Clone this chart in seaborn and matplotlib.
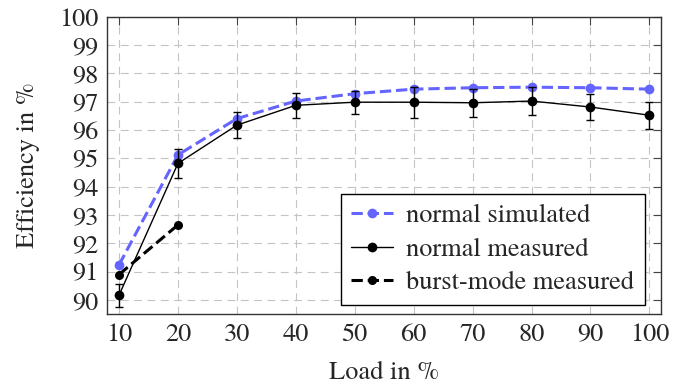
import matplotlib
matplotlib.use("Agg")
import matplotlib.pyplot as plt
import seaborn as sns

# data
load = [10, 20, 30, 40, 50, 60, 70, 80, 90, 100]
sim = [91.24, 95.12, 96.40, 97.02, 97.28, 97.44, 97.49, 97.51, 97.49, 97.44]
meas = [90.17, 94.82, 96.17, 96.87, 96.98, 96.98, 96.96, 97.02, 96.81, 96.52]
meas_err = [0.41, 0.51, 0.46, 0.44, 0.41, 0.54, 0.50, 0.50, 0.47, 0.47]
burst_load = [10, 20]
burst = [90.90, 92.65]

xticks = [10, 20, 30, 40, 50, 60, 70, 80, 90, 100]
yticks = [90, 91, 92, 93, 94, 95, 96, 97, 98, 99, 100]

sns.set_theme(style="white")
plt.rcParams['font.family'] = ['TeX Gyre Termes', 'Liberation Serif', 'DejaVu Serif']

fig = plt.figure(figsize=(6.83, 3.86), dpi=100)
ax = fig.add_axes([0.157, 0.186, 0.811, 0.771])

blue = '#6464ff'

# simulated
sns.lineplot(x=load, y=sim, ax=ax, color=blue, linestyle='--', linewidth=2.2,
             marker='o', markersize=7, markeredgewidth=0, label='normal simulated')

# measured with error bars
ax.errorbar(load, meas, yerr=meas_err, fmt='none', ecolor='black',
            elinewidth=1.0, capsize=3, capthick=1.0, zorder=3)
sns.lineplot(x=load, y=meas, ax=ax, color='black', linewidth=1.0,
             marker='o', markersize=7, markeredgewidth=0, label='normal measured')

# burst mode
sns.lineplot(x=burst_load, y=burst, ax=ax, color='black', linestyle='--', linewidth=2.2,
             marker='o', markersize=6.5, markeredgewidth=0, label='burst-mode measured')

ax.set_xlim(8, 102)
ax.set_ylim(89.5, 100)
ax.set_xticks(xticks)
ax.set_yticks(yticks)
ax.grid(True, linestyle=(0, (7, 5)), color='#c4c4c4', linewidth=0.8)
ax.set_axisbelow(True)

ax.tick_params(direction='in', top=True, right=True, length=6, width=0.8,
               color='#444444', labelsize=19, pad=6)
for s in ax.spines.values():
    s.set_color('#333333')
    s.set_linewidth(1.0)

ax.set_xlabel('Load in %', fontsize=19, labelpad=10)
ax.set_ylabel('Efficiency in %', fontsize=19, labelpad=14)

leg = ax.legend(loc='lower right', bbox_to_anchor=(0.97, 0.03), borderaxespad=0,
                fontsize=19, handlelength=1.6, handletextpad=0.5, labelspacing=0.34,
                frameon=True, fancybox=False, borderpad=0.38)
leg.get_frame().set_edgecolor('black')
leg.get_frame().set_linewidth(1.0)
leg.get_frame().set_alpha(1)

fig.savefig('out.png', dpi=100)
